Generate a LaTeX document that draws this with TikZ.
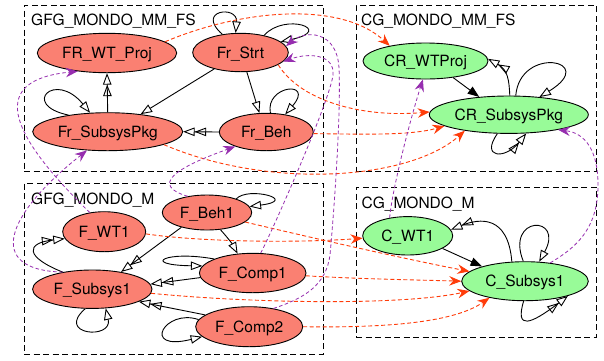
\documentclass[tikz,border=0pt]{standalone}
\usepackage{fontspec}
\setmainfont{TeX Gyre Heros}
\usetikzlibrary{shapes.geometric,arrows.meta}

\definecolor{nodered}{RGB}{250,128,114}
\definecolor{nodegreen}{RGB}{152,251,152}
\definecolor{linkred}{RGB}{255,60,10}
\definecolor{linkviolet}{RGB}{150,45,175}

\tikzset{
  gnode/.style={ellipse, draw=black, line width=0.9pt, inner sep=0pt,
    text height=11pt, text depth=0pt, font=\fontsize{15.5}{18}\selectfont},
  rnode/.style={gnode, fill=nodered},
  cnode/.style={gnode, fill=nodegreen},
  cluster/.style={draw=black, dash pattern=on 6pt off 3.5pt, line width=0.9pt, inner sep=0pt},
  clabel/.style={anchor=base west, inner sep=0pt, font=\fontsize{15.5}{18}\selectfont},
  otip/.tip={Triangle[open,length=11.5pt,width=8.5pt,line width=0.9pt]},
  ftip/.tip={Triangle[length=11.5pt,width=8.5pt]},
  vtip/.tip={Stealth[length=12pt,width=9.5pt,inset=4pt]},
  dep/.style={draw=black, line width=0.9pt, -otip},
  depdouble/.style={draw=black, line width=0.9pt, -{otip[]otip[]}},
  depfill/.style={draw=black, line width=0.9pt, -ftip},
  mapred/.style={draw=linkred, line width=0.9pt, dash pattern=on 4pt off 2.5pt, -{vtip[]}},
  mapviolet/.style={draw=linkviolet, line width=0.8pt, dash pattern=on 3.5pt off 2.5pt, -{vtip[]}},
}

\begin{document}
\begin{tikzpicture}[x=1pt,y=-1pt]
\useasboundingbox (0,0) rectangle (604,360);
\fill[white] (0,0) rectangle (604,360);

% clusters
\node[cluster, minimum width=299pt, minimum height=166pt] (clmmfs) at (173.5,88) {};
\node[cluster, minimum width=240pt, minimum height=166pt] (ccmmfs) at (476,88) {};
\node[cluster, minimum width=299pt, minimum height=171pt] (clm) at (173.5,268.5) {};
\node[cluster, minimum width=240pt, minimum height=150pt] (ccm) at (476,262) {};
\node[clabel] (lclmmfs) at (31,25.5) {GFG\_MONDO\_MM\_FS};
\node[clabel] (lccmmfs) at (361,25.5) {CG\_MONDO\_MM\_FS};
\node[clabel] (lclm) at (31,204.3) {GFG\_MONDO\_M};
\node[clabel] (lccm) at (361.5,208.3) {CG\_MONDO\_M};

% nodes
\node[rnode, minimum width=139.4pt, minimum height=39.4pt] (frwt) at (107,53) {FR\_WT\_Proj};
\node[rnode, minimum width=95.6pt, minimum height=38.4pt] (frst) at (240.5,52.5) {Fr\_Strt};
\node[rnode, minimum width=150pt, minimum height=38pt] (frsp) at (107.7,131.7) {Fr\_SubsysPkg};
\node[rnode, minimum width=94pt, minimum height=37.4pt] (frbh) at (266.3,132) {Fr\_Beh};
\node[cnode, minimum width=125pt, minimum height=36pt] (crwt) at (425.5,61) {CR\_WTProj};
\node[cnode, minimum width=159pt, minimum height=37.4pt] (crsp) at (508.8,114.7) {CR\_SubsysPkg};
\node[rnode, minimum width=83pt, minimum height=40pt] (fwt1) at (104.2,231.7) {F\_WT1};
\node[rnode, minimum width=89.4pt, minimum height=35pt] (fbh1) at (207,212.5) {F\_Beh1};
\node[rnode, minimum width=106.6pt, minimum height=39.4pt] (fcp1) at (252.7,273) {F\_Comp1};
\node[rnode, minimum width=119.4pt, minimum height=38.4pt] (fss1) at (92.3,289.2) {F\_Subsys1};
\node[rnode, minimum width=107pt, minimum height=40pt] (fcp2) at (249.2,326.7) {F\_Comp2};
\node[cnode, minimum width=90pt, minimum height=38.4pt] (cwt1) at (407.7,235.8) {C\_WT1};
\node[cnode, minimum width=126.6pt, minimum height=39pt] (css1) at (525,281.2) {C\_Subsys1};

% dependencies inside GFG_MONDO_MM_FS
\draw[dep] (frst.212) -- (frsp.28);
\draw[dep] (frst.288) -- (frbh.110);
\draw[dep] (frst.135) .. controls (195,10) and (238,5) .. (frst.104);
\draw[dep] (frst.36) .. controls (285,12) and (335,30) .. (frst.15);
\draw[depdouble] (frsp.90) -- (frwt.270);
\draw[dep] (frsp.157) .. controls (20,105) and (55,70) .. (frsp.133);
\draw[depdouble] (frbh.180) -- (frsp.0);
\draw[dep] (frbh.78) .. controls (265,85) and (315,80) .. (frbh.43);

% dependencies inside CG_MONDO_MM_FS
\draw[depfill] (crwt.329) -- (crsp.149);
\draw[depdouble] (crsp.87) .. controls (509,80) and (508,70) .. (crwt.2);
\draw[dep] (crsp.70) .. controls (520,45) and (600,60) .. (crsp.30);
\draw[depdouble] (crsp.239) .. controls (480,158) and (505,160) .. (crsp.313);

% dependencies inside GFG_MONDO_M
\draw[depdouble] (fss1.150) .. controls (25,257) and (25,243) .. (fwt1.190);
\draw[depdouble] (fbh1.210) -- (fss1.31);
\draw[dep] (fbh1.308) .. controls (228,238) and (233,245) .. (fcp1.128);
\draw[dep] (fbh1.25) .. controls (248,186) and (300,200) .. (fbh1.8);
\draw[depdouble] (fcp1.185) -- (fss1.5);
\draw[dep] (fcp1.160) .. controls (165,250) and (140,265) .. (fcp1.172);
\draw[depdouble] (fcp2.165) -- (fss1.345);
\draw[dep] (fcp2.172) .. controls (165,308) and (140,352) .. (fcp2.192);
\draw[dep] (fss1.250) .. controls (55,335) and (113,340) .. (fss1.305);

% dependencies inside CG_MONDO_M
\draw[depfill] (cwt1.340) -- (css1.161);
\draw[depdouble] (css1.124) .. controls (508,215) and (480,218) .. (cwt1.8);
\draw[dep] (css1.95) .. controls (505,215) and (565,215) .. (css1.54);
\draw[depdouble] (css1.266) .. controls (515,330) and (530,325) .. (css1.341);

% red mappings
\draw[mapred] (frwt.11) .. controls (240,10) and (340,0) .. (crwt.157);
\draw[mapred] (frst.342) .. controls (300,100) and (360,118) .. (crsp.178);
\draw[mapred] (frbh.358) .. controls (360,134) and (410,136) .. (crsp.190);
\draw[mapred] (frsp.347) .. controls (270,190) and (410,180) .. (crsp.200);
\draw[mapred] (fwt1.357) .. controls (200,242) and (300,243) .. (cwt1.183);
\draw[mapred] (fbh1.346) .. controls (300,235) and (400,258) .. (css1.170);
\draw[mapred] (fcp1.357) .. controls (360,279) and (420,280) .. (css1.180);
\draw[mapred] (fss1.356) .. controls (250,303) and (400,306) .. (css1.190);
\draw[mapred] (fcp2.0) .. controls (390,328) and (455,322) .. (css1.205);

% violet mappings
\draw[mapviolet] (fwt1.127) .. controls (5,130) and (-10,80) .. (frwt.212);
\draw[mapviolet] (fss1.150) .. controls (-15,270) and (5,215) .. (frsp.222);
\draw[mapviolet] (fbh1.140) .. controls (150,185) and (175,168) .. (frbh.205);
\draw[mapviolet] (fcp1.68) .. controls (275,225) and (330,100) .. (333,75)
  .. controls (335,55) and (310,52) .. (frst.348);
\draw[mapviolet] (fcp2.37) .. controls (305,298) and (326,285) .. (330,255)
  .. controls (335,200) and (341,110) .. (339,68)
  .. controls (337,30) and (305,30) .. (frst.8);
\draw[mapviolet] (cwt1.135) .. controls (392,190) and (410,120) .. (crwt.262);
\draw[mapviolet] (css1.36) .. controls (575,248) and (598,230) .. (598,185)
  .. controls (598,150) and (585,133) .. (crsp.343);
\end{tikzpicture}
\end{document}
